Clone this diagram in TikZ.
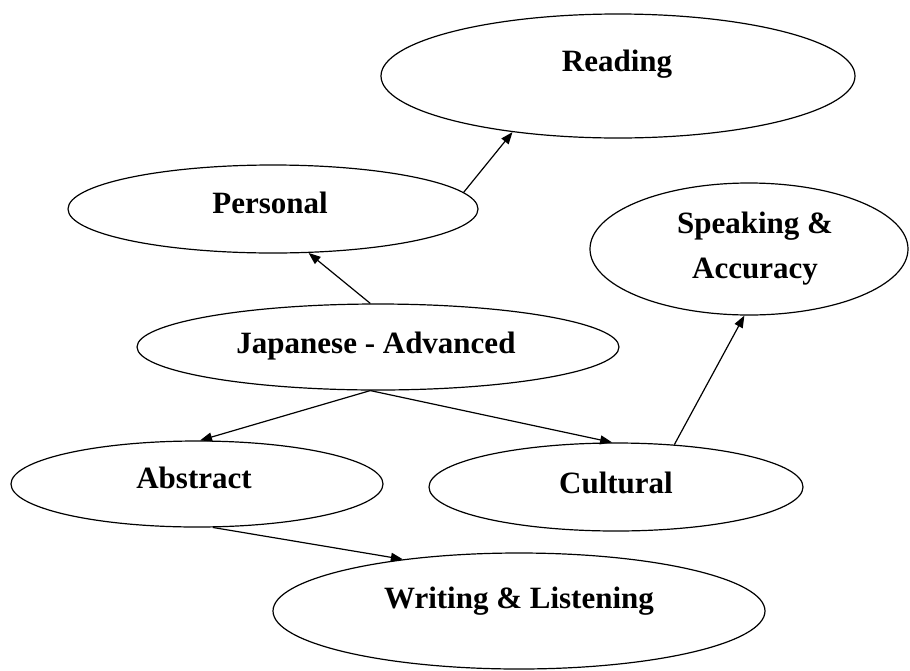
\documentclass[tikz,border=0pt]{standalone}
\usepackage{fontspec}
\setmainfont{Liberation Serif}
\usetikzlibrary{shapes.geometric,arrows.meta}

\tikzset{
  topic/.style={draw=black, line width=1.2pt, ellipse, inner sep=0pt, fill=white},
  lbl/.style={font=\fontsize{31}{45}\selectfont\bfseries, inner sep=0pt, align=center},
  link/.style={line width=1.2pt, -{Triangle[length=12pt,width=9pt]}}
}

\begin{document}
\begin{tikzpicture}[x=1pt,y=-1pt]
  \useasboundingbox[fill=white] (0,0) rectangle (910,670);

  % topic ellipses
  \node[topic, minimum width=474pt, minimum height=124pt] (read)  at (618,76)  {};
  \node[topic, minimum width=410pt, minimum height=88pt]  (pers)  at (273,209) {};
  \node[topic, minimum width=318pt, minimum height=132pt] (speak) at (749,249) {};
  \node[topic, minimum width=482pt, minimum height=86pt]  (jap)   at (378,347) {};
  \node[topic, minimum width=372pt, minimum height=86pt]  (abs)   at (197,484) {};
  \node[topic, minimum width=374pt, minimum height=88pt]  (cult)  at (616,487) {};
  \node[topic, minimum width=492pt, minimum height=116pt] (write) at (519,611) {};

  % labels, set a little above each centre
  \node[lbl, anchor=base] (readt)  at (617,71)  {Reading};
  \node[lbl, anchor=base] (perst)  at (270,213) {Personal};
  \node[lbl, anchor=center] (speakt) at (755,249) {Speaking \&\\Accuracy};
  \node[lbl, anchor=base] (japt)   at (376,353) {Japanese - Advanced};
  \node[lbl, anchor=base] (abst)   at (194,488) {Abstract};
  \node[lbl, anchor=base] (cultt)  at (616,493) {Cultural};
  \node[lbl, anchor=base] (writet) at (519,608) {Writing \& Listening};

  % connectors
  \draw[link] (pers.5.1)    -- (read.208.5);
  \draw[link] (jap.100.8)   -- (pers.-51.5);
  \draw[link] (jap.260)     -- (abs.86);
  \draw[link] (jap.260)     -- (cult.95);
  \draw[link] (cult.36.4)   -- (speak.266.7);
  \draw[link] (abs.290.4)   -- (write.156.8);
\end{tikzpicture}
\end{document}
